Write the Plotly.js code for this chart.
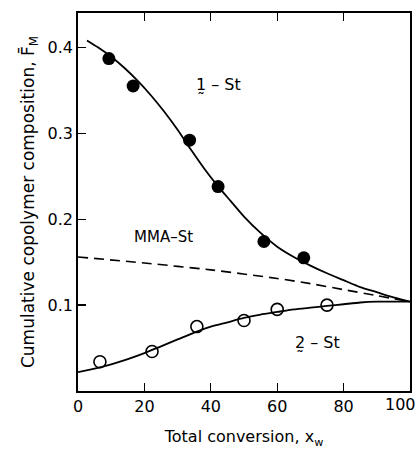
<!DOCTYPE html>
<html>
<head>
<meta charset="utf-8">
<script src="https://cdn.plot.ly/plotly-3.0.1.min.js"></script>
<style>html,body{margin:0;padding:0;background:#fff;}#chart{width:418px;height:452px;}</style>
</head>
<body>
<div id="chart"></div>
<script>
// Data
var st1PointsX = [9.3, 16.6, 33.6, 42.2, 56.0, 68.0];
var st1PointsY = [0.387, 0.355, 0.292, 0.238, 0.174, 0.155];
var st1CurveX = [2.7, 6, 10, 14, 18, 22, 26, 30, 34, 38, 42, 46, 50, 55, 60, 65, 70, 75, 80, 85, 90, 95, 100];
var st1CurveY = [0.408, 0.400, 0.389, 0.376, 0.361, 0.344, 0.325, 0.304, 0.281, 0.259, 0.239, 0.221, 0.203, 0.184, 0.168, 0.156, 0.146, 0.137, 0.129, 0.121, 0.115, 0.109, 0.104];

var mmaCurveX = [0, 20, 40, 60, 70, 80, 90, 100];
var mmaCurveY = [0.156, 0.149, 0.141, 0.131, 0.125, 0.118, 0.111, 0.104];

var st2PointsX = [6.6, 22.3, 35.8, 50.0, 60.0, 75.0];
var st2PointsY = [0.034, 0.046, 0.075, 0.082, 0.095, 0.100];
var st2CurveX = [0, 5, 10, 15, 20, 25, 30, 35, 40, 45, 50, 55, 60, 65, 70, 75, 80, 85, 90, 95, 100];
var st2CurveY = [0.022, 0.026, 0.031, 0.037, 0.044, 0.052, 0.060, 0.068, 0.075, 0.080, 0.085, 0.089, 0.092, 0.095, 0.097, 0.099, 0.101, 0.103, 0.104, 0.104, 0.104];

var xTicks = [0, 20, 40, 60, 80, 100];
var xTickLabels = ['0', '20', '40', '60', '80', '100'];
var yTicks = [0.1, 0.2, 0.3, 0.4];
var yTickLabels = ['0.1', '0.2', '0.3', '0.4'];

var FONT = "DejaVu Sans, sans-serif";

var traces = [
  {x: st1CurveX, y: st1CurveY, mode: 'lines', line: {color: '#000', width: 1.8, shape: 'spline', smoothing: 0.6}, hoverinfo: 'skip'},
  {x: mmaCurveX, y: mmaCurveY, mode: 'lines', line: {color: '#000', width: 1.6, dash: '10px,6px', shape: 'spline', smoothing: 0.6}, hoverinfo: 'skip'},
  {x: st2CurveX, y: st2CurveY, mode: 'lines', line: {color: '#000', width: 1.8, shape: 'spline', smoothing: 0.6}, hoverinfo: 'skip'},
  {x: st1PointsX, y: st1PointsY, mode: 'markers', marker: {symbol: 'circle', size: 13, color: '#000'}},
  {x: st2PointsX, y: st2PointsY, mode: 'markers', marker: {symbol: 'circle-open', size: 12, color: '#000', line: {width: 1.6, color: '#000'}}}
];

// the last x tick label sits flush with the right edge in the reference
var lastIdx = xTicks.length - 1;
var shownXLabels = xTickLabels.map(function(t, i){ return i === lastIdx ? ' ' : t; });

var layout = {
  width: 418, height: 452,
  margin: {l: 78, r: 8, t: 13, b: 61},
  paper_bgcolor: '#fff', plot_bgcolor: '#fff',
  showlegend: false,
  font: {family: FONT, color: '#000', size: 16},
  xaxis: {
    range: [0, 100], tickvals: xTicks, ticktext: shownXLabels,
    ticks: 'inside', ticklen: 8, tickwidth: 1.3, tickcolor: '#000',
    showline: true, linecolor: '#000', linewidth: 1.8, mirror: 'ticks',
    showgrid: false, zeroline: false,
    tickfont: {family: FONT, size: 16},
    title: {text: 'Total conversion, x<sub>w</sub>', font: {family: FONT, size: 16}, standoff: 16}
  },
  yaxis: {
    range: [0, 0.44], tickvals: yTicks, ticktext: yTickLabels,
    ticks: 'inside', ticklen: 8, tickwidth: 1.3, tickcolor: '#000',
    showline: true, linecolor: '#000', linewidth: 1.8, mirror: true,
    showgrid: false, zeroline: false,
    tickfont: {family: FONT, size: 16},
    title: {text: 'Cumulative copolymer composition, F\u0304<sub>M</sub>', font: {family: FONT, size: 17}, standoff: 8}
  },
  annotations: [
    {x: 42.2, y: 0.357, xref: 'x', yref: 'y', text: '1\u0330 \u2013 St', showarrow: false, font: {family: FONT, size: 16}},
    {x: 25.9, y: 0.179, xref: 'x', yref: 'y', text: 'MMA\u2013St', showarrow: false, font: {family: FONT, size: 15}},
    {x: 72, y: 0.056, xref: 'x', yref: 'y', text: '2\u0330 \u2013 St', showarrow: false, font: {family: FONT, size: 16}},
    {x: xTicks[lastIdx], y: 0, xref: 'x', yref: 'paper', yanchor: 'top', xanchor: 'right', xshift: 8, yshift: -2,
     text: xTickLabels[lastIdx], showarrow: false, font: {family: FONT, size: 16}}
  ]
};

Plotly.newPlot('chart', traces, layout, {displayModeBar: false, staticPlot: true});
</script>
</body>
</html>
